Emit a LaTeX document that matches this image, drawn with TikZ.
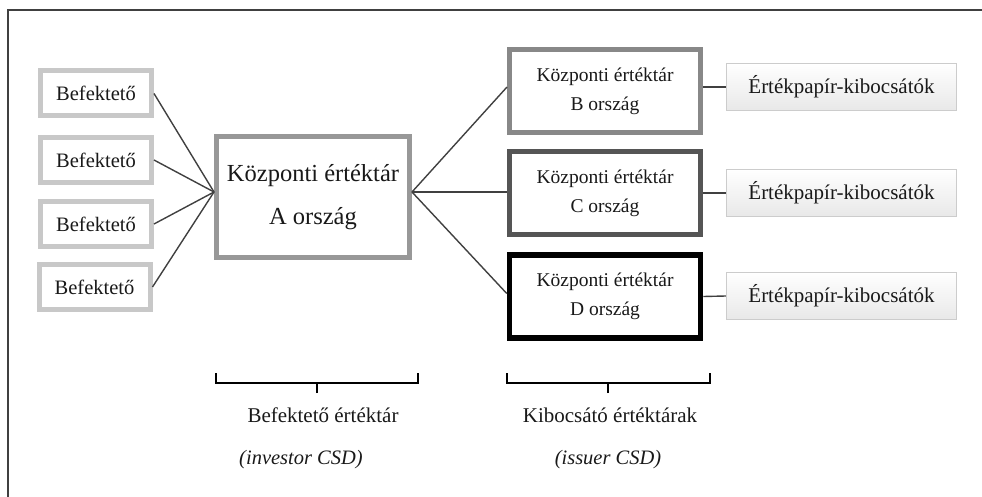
\documentclass[tikz,border=0pt]{standalone}
\usepackage{fontspec}
\setmainfont{Liberation Serif}
\begin{document}
\definecolor{invgray}{RGB}{200,200,200}
\definecolor{agray}{RGB}{152,152,152}
\definecolor{bgray}{RGB}{136,136,136}
\definecolor{cgray}{RGB}{85,85,85}
\definecolor{linkgray}{RGB}{64,64,64}
\definecolor{issgray}{RGB}{204,204,204}
\definecolor{inkcol}{RGB}{25,25,25}
\begin{tikzpicture}[x=1pt,y=-1pt,
  every node/.style={text=inkcol},
  invbox/.style={draw=invgray, line width=5pt, fill=white, inner sep=0pt,
    minimum width=111pt, minimum height=45pt, font=\fontsize{20.5}{24}\selectfont},
  csdbox/.style={line width=5pt, fill=white, inner sep=0pt, align=center,
    minimum width=191pt, minimum height=83pt, font=\fontsize{19.5}{29}\selectfont},
  mainbox/.style={draw=agray, line width=5pt, fill=white, inner sep=0pt, align=center,
    minimum width=193pt, minimum height=121pt, font=\fontsize{24.5}{43}\selectfont},
  issbox/.style={draw=issgray, line width=1.2pt, top color=white, bottom color=gray!18,
    inner sep=0pt, minimum width=230pt, minimum height=47pt,
    font=\fontsize{21}{24}\selectfont},
  link/.style={draw=linkgray, line width=1.4pt},
  brace/.style={draw=black, line width=2pt},
  label/.style={font=\fontsize{21}{24}\selectfont},
  note/.style={font=\fontsize{20.5}{24}\selectfont\itshape}]
\useasboundingbox (0,0) rectangle (982,497);

% outer frame (left and top edges)
\draw[draw=linkgray, line width=1.5pt] (8,497) -- (8,10) -- (982,10);

% investors
\node[invbox] (i1) at (96,93.5) {Befektető};
\node[invbox] (i2) at (96,160) {Befektető};
\node[invbox] (i3) at (96,224) {Befektető};
\node[invbox] (i4) at (94.5,287) {Befektető};

% investor CSD
\node[mainbox] (A) at (313,197) {Központi értéktár\\A ország};

% issuer CSDs
\node[csdbox, draw=bgray] (B) at (605,91) {Központi értéktár\\B ország};
\node[csdbox, draw=cgray] (C) at (605,193) {Központi értéktár\\C ország};
\node[csdbox, draw=black, line width=5.5pt] (D) at (605,296.5) {Központi értéktár\\D ország};

% issuers
\node[issbox] (e1) at (841.5,87) {Értékpapír-kibocsátók};
\node[issbox] (e2) at (841.5,193) {Értékpapír-kibocsátók};
\node[issbox] (e3) at (841.5,296) {Értékpapír-kibocsátók};

% connectors
\coordinate (Ain) at ([yshift=5pt]A.west);
\coordinate (Aout) at ([yshift=5pt]A.east);
\foreach \n in {i1,i2,i3,i4} \draw[link] (\n.east) -- (Ain);
\draw[link] (Aout) -- ([yshift=4pt]B.west);
\draw[link] (Aout) -- ([yshift=1pt]C.west);
\draw[link] (Aout) -- ([yshift=3pt]D.west);
\draw[link] ([yshift=4pt]B.east) -- (e1.west);
\draw[link] (C.east) -- (e2.west);
\draw[link] (D.east) -- (e3.west);

% group brackets
\coordinate (bl1) at (216,373); \coordinate (bl2) at (418,373); \coordinate (blt) at (317,393);
\coordinate (br1) at (507,373); \coordinate (br2) at (710,373); \coordinate (brt) at (608,393);
\draw[brace] (bl1) -- ++(0,10) -| (bl2);
\draw[brace] (blt) -- ++(0,-10);
\draw[brace] (br1) -- ++(0,10) -| (br2);
\draw[brace] (brt) -- ++(0,-10);

% group labels
\node[label] (l1) at (323,415) {Befektető értéktár};
\node[note] (n1) at (301,460) {(investor CSD)};
\node[label] (l2) at (610,415) {Kibocsátó értéktárak};
\node[note] (n2) at (608,460) {(issuer CSD)};
\end{tikzpicture}
\end{document}
